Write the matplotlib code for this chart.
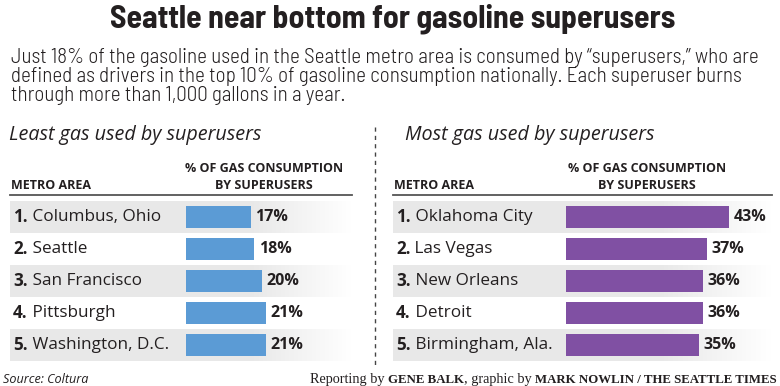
import matplotlib
matplotlib.use("Agg")
import matplotlib.pyplot as plt
import numpy as np
from matplotlib.lines import Line2D

# ---- data ----
least_areas = ["Columbus, Ohio", "Seattle", "San Francisco", "Pittsburgh", "Washington, D.C."]
least_values = [17, 18, 20, 21, 21]
most_areas = ["Oklahoma City", "Las Vegas", "New Orleans", "Detroit", "Birmingham, Ala."]
most_values = [43, 37, 36, 36, 35]

title = "Seattle near bottom for gasoline superusers"
subtitle = ["Just 18% of the gasoline used in the Seattle metro area is consumed by \u201csuperusers,\u201d who are",
            "defined as drivers in the top 10% of gasoline consumption nationally. Each superuser burns",
            "through more than 1,000 gallons in a year."]

W, H = 780, 386
fig = plt.figure(figsize=(W / 100, H / 100), dpi=100)
fig.patch.set_facecolor("white")
renderer = fig.canvas.get_renderer()

def fx(px):
    return px / W

def fy(py):
    return 1 - py / H

def fit(t, target_px):
    w = t.get_window_extent(renderer).width
    if w > 0:
        t.set_fontsize(t.get_fontsize() * target_px / w)
    return t

TITLEF = ["Barlow Semi Condensed", "Barlow Condensed", "DejaVu Sans"]
NARROW = ["Barlow Semi Condensed", "Barlow Condensed", "DejaVu Sans"]
SANS = ["Open Sans", "DejaVu Sans"]
SERIF = ["Liberation Serif", "DejaVu Serif"]
DARK = "#231f20"

t = fig.text(fx(393), fy(27), title, ha="center", va="baseline", fontsize=21,
             fontweight="bold", family=TITLEF, color=DARK)
fit(t, 564)
subs = []
for i, line in enumerate(subtitle):
    subs.append(fig.text(fx(11), fy(63 + 19 * i), line, ha="left", va="baseline",
                         fontsize=14, family=NARROW, weight=300, color=DARK))
fit(subs[0], 744)
for s in subs[1:]:
    s.set_fontsize(subs[0].get_fontsize())

PX_PER_UNIT = 3.8

def panel(x0, x1, zero_px, areas, values, color, heading, head_x, col_center):
    ax = fig.add_axes([fx(x0), fy(361), (x1 - x0) / W, 160 / H])
    ax.set_xlim(-(zero_px - x0) / PX_PER_UNIT, (x1 - zero_px) / PX_PER_UNIT)
    ax.set_ylim(4.5, -0.5)
    ax.axis("off")
    xmin, xmax = ax.get_xlim()
    # stripes with fade to the right
    n = 200
    alpha = np.ones(n)
    fade_start = int(n * 0.7)
    alpha[fade_start:] = np.linspace(1, 0, n - fade_start)
    grad = np.zeros((1, n, 4))
    grad[..., :3] = np.array([0.91, 0.91, 0.91])
    grad[0, :, 3] = alpha
    for i in range(len(areas)):
        if i % 2 == 0:
            ax.imshow(grad, extent=(xmin, xmax, i + 0.5, i - 0.5), aspect="auto",
                      interpolation="bilinear", zorder=0)
    ax.set_xlim(xmin, xmax)
    ax.set_ylim(4.5, -0.5)
    y = np.arange(len(areas))
    ax.barh(y, values, height=0.66, color=color, zorder=2)
    trans = ax.get_yaxis_transform()
    for i, (a, v) in enumerate(zip(areas, values)):
        tt = ax.text(3 / (x1 - x0), i, f"{i + 1}.", transform=trans, ha="left", va="center",
                     fontsize=12.3, fontweight="bold", family=SANS, color=DARK, zorder=3)
        ax.annotate(" " + a, xy=(1, 0.5), xycoords=tt, ha="left", va="center",
                    fontsize=12.3, family=SANS, color=DARK, zorder=3)
        ax.text(v + 1.2, i, f"{v}%", ha="left", va="center", fontsize=11.5,
                fontweight="bold", family=SANS, color=DARK, zorder=3)
    # headings
    fig.text(fx(head_x), fy(140), heading, ha="left", va="baseline", fontsize=14.2,
             style="italic", family=SANS, color=DARK)
    fig.text(fx(col_center), fy(172), "% OF GAS CONSUMPTION", ha="center", va="baseline",
             fontsize=9, fontweight="bold", family=SANS, color=DARK)
    fig.text(fx(col_center), fy(189), "BY SUPERUSERS", ha="center", va="baseline",
             fontsize=9, fontweight="bold", family=SANS, color=DARK)
    fig.text(fx(x0 + 1), fy(189), "METRO AREA", ha="left", va="baseline",
             fontsize=9, fontweight="bold", family=SANS, color=DARK)
    fig.add_artist(Line2D([fx(x0), fx(x1)], [fy(195), fy(195)], color="#555555", lw=1.3))
    return ax

panel(10, 352, 186, least_areas, least_values, "#5b9bd5",
      "Least gas used by superusers", 9, 264)
panel(393, 772, 566, most_areas, most_values, "#8050a3",
      "Most gas used by superusers", 405, 647)

# dashed divider
fig.add_artist(Line2D([fx(375), fx(375)], [fy(127), fy(367)], color="#444444",
                      lw=1, linestyle=(0, (3, 3))))

# footer
fig.text(fx(3), fy(383), "Source: Coltura", ha="left", va="baseline", fontsize=9.1,
         style="italic", family=SANS, color=DARK)

parts = [("Reporting by ", "normal", 10.3), ("GENE BALK", "bold", 9.3),
         (", graphic by ", "normal", 10.3), ("MARK NOWLIN / THE SEATTLE TIMES", "bold", 9.3)]
texts = []
for s, wgt, sz in parts:
    texts.append(fig.text(0, fy(383), s, ha="left", va="baseline", fontsize=sz,
                          fontweight=wgt, family=SERIF, color=DARK))
widths = [tx.get_window_extent(renderer).width for tx in texts]
x = 777 - sum(widths)
for tx, w in zip(texts, widths):
    tx.set_x(fx(x))
    x += w

fig.savefig("out.png", dpi=100, facecolor="white")
